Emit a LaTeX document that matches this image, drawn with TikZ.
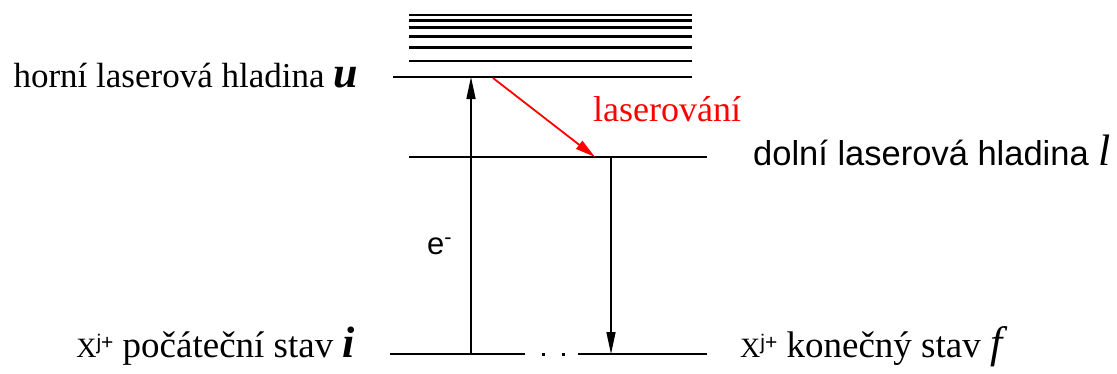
\documentclass[tikz,border=0pt]{standalone}
\usepackage{fontspec}
\setmainfont{Liberation Serif}
\setsansfont{Liberation Sans}
\usetikzlibrary{arrows.meta}
\usepackage{xcolor}

\newcommand{\statesym}[1]{{\fontsize{44}{44}\selectfont\textbf{\textit{#1}}}}
\newcommand{\ionsym}{{\fontsize{28}{30}\selectfont X}{\sffamily\fontsize{21}{22}\selectfont\raisebox{8pt}{j+}}}

\begin{document}
\begin{tikzpicture}[
    x=1pt, y=-1pt,
    level/.style={
        line width=1.3pt
    },
    band/.style={
        line width=2.6pt
    },
    label/.style={
        inner sep=0pt,
        font=\fontsize{35}{40}\selectfont
    },
    arrow/.style={
        -{Triangle[length=22pt, width=9pt]},
        line width=1.5pt
    },
    laser/.style={
        -{Triangle[length=20pt, width=10pt]},
        line width=1.8pt,
        red
    }
]
\useasboundingbox (0,0) rectangle (1117,373);

% band of levels above u
\draw[level] (409,15) -- (692,15);
\foreach \y in {20.7,27.7,36.7,47.7,61} {
    \draw[band] (409,\y) -- (692,\y);
}

% upper laser level u
\coordinate (uL) at (393,77);
\coordinate (uR) at (692,77);
\draw[level] (uL) -- (uR);

% lower laser level l
\coordinate (lL) at (409,157);
\coordinate (lR) at (707,157);
\draw[band, line width=2pt] (lL) -- (lR);

% ground states i and f
\coordinate (iL) at (390,354);
\coordinate (iR) at (525,354);
\coordinate (fL) at (578,354);
\coordinate (fR) at (707,354);
\draw[band, line width=2pt] (iL) -- (iR);
\draw[band, line width=2pt] (fL) -- (fR);
\fill (541.5,352.5) rectangle +(3,3);
\fill (561.5,352.5) rectangle +(3,3);

% transitions
\coordinate (up0) at (471,354);
\coordinate (up1) at (471,77);
\coordinate (down0) at (611,157);
\coordinate (down1) at (611,354);
\coordinate (las0) at (493,78);
\coordinate (las1) at (595,157);
\draw[arrow] (up0) -- (up1);
\draw[arrow] (down0) -- (down1);
\draw[laser] (las0) -- (las1);

% labels
\node[label, anchor=base east] (ulabel) at (358,87)
{horní laserová hladina \statesym{u}};

\node[label, anchor=base west, font=\sffamily\fontsize{34.5}{40}\selectfont] (llabel) at (753,165)
{dolní laserová hladina {\rmfamily\fontsize{44}{44}\selectfont\textit{l}}};

\node[label, anchor=base west, red, font=\fontsize{36}{40}\selectfont] (laslabel) at (593,121)
{laserování};

\node[label, anchor=base west, font=\sffamily\fontsize{31}{36}\selectfont] (elabel) at (427,254)
{e\textsuperscript{-}};

\node[label, anchor=base east, font=\fontsize{37}{40}\selectfont] (ilabel) at (355,357)
{\ionsym\ počáteční stav \statesym{i}};

\node[label, anchor=base west, font=\fontsize{37}{40}\selectfont] (flabel) at (740,357)
{\ionsym\ konečný stav {\fontsize{44}{44}\selectfont\textit{f}}};

\end{tikzpicture}
\end{document}
